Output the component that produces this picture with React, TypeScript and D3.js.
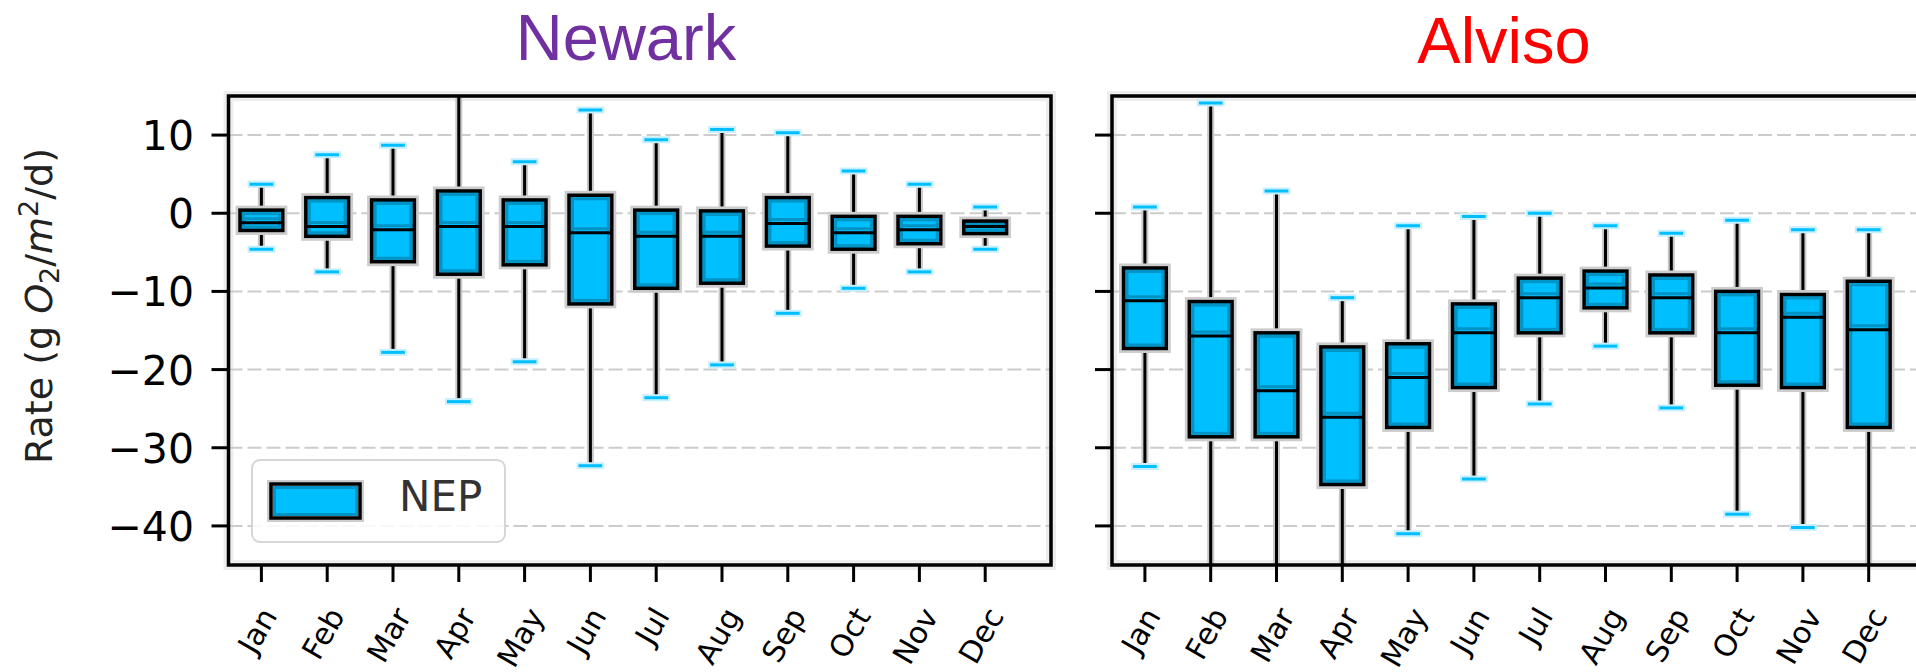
import React, { useEffect, useRef } from 'react';
import * as d3 from 'd3';

const months = ['Jan', 'Feb', 'Mar', 'Apr', 'May', 'Jun', 'Jul', 'Aug', 'Sep', 'Oct', 'Nov', 'Dec'];
const yTicks = [10, 0, -10, -20, -30, -40];

// Newark NEP, monthly box stats (g O2/m2/d)
const newarkLow = [-4.6, -7.5, -17.8, -24.1, -19.0, -32.3, -23.6, -19.4, -12.8, -9.6, -7.5, -4.6];
const newarkQ1 = [-2.2, -2.95, -6.2, -7.8, -6.6, -11.6, -9.6, -8.95, -4.2, -4.6, -3.9, -2.6];
const newarkMedian = [-1.2, -1.7, -2.1, -1.7, -1.7, -2.5, -2.95, -2.95, -1.3, -2.5, -2.1, -1.7];
const newarkQ3 = [0.4, 2.0, 1.7, 2.85, 1.7, 2.3, 0.4, 0.3, 2.0, -0.4, -0.4, -1.0];
const newarkHigh = [3.7, 7.5, 8.7, 18, 6.6, 13.2, 9.4, 10.7, 10.3, 5.4, 3.7, 0.8];

// Alviso NEP
const alvisoLow = [-32.4, -48, -47, -50, -41.0, -34.0, -24.4, -17.0, -24.9, -38.5, -40.2, -48];
const alvisoQ1 = [-17.3, -28.6, -28.6, -34.7, -27.4, -22.3, -15.3, -12.1, -15.3, -22.0, -22.3, -27.4];
const alvisoMedian = [-11.2, -15.7, -22.7, -26.1, -21.0, -15.3, -10.8, -9.55, -10.8, -15.3, -13.3, -14.9];
const alvisoQ3 = [-7.0, -11.3, -15.3, -17.1, -16.7, -11.6, -8.3, -7.4, -7.9, -10.0, -10.4, -8.7];
const alvisoHigh = [0.8, 14.1, 2.85, -10.8, -1.6, -0.4, 0.0, -1.6, -2.56, -0.9, -2.1, -2.1];

const FILL = '#00BFFF';
const BAND = '#0093C4';

const App: React.FC = () => {
  const ref = useRef<SVGSVGElement>(null);

  useEffect(() => {
    const svg = d3.select(ref.current);
    svg.selectAll('*').remove();

    const top = 96;
    const bottom = 565;
    const plotW = 822.5;
    const y = d3.scaleLinear().domain([15, -45]).range([top, bottom]);

    const panels = [
      { key: 'n', left: 228.5, title: 'Newark', color: '#7030A0', tx: 626, ty: 60, low: newarkLow, q1: newarkQ1, med: newarkMedian, q3: newarkQ3, high: newarkHigh, labels: true },
      { key: 'a', left: 1112, title: 'Alviso', color: '#FF0000', tx: 1504, ty: 63, low: alvisoLow, q1: alvisoQ1, med: alvisoMedian, q3: alvisoQ3, high: alvisoHigh, labels: false },
    ];

    panels.forEach((p) => {
      const x = d3.scaleLinear().domain([0.5, 13]).range([p.left, p.left + plotW]);
      const unit = x(2) - x(1);
      const bw = unit * 0.65;
      const cw = unit * 0.36;

      const defs = svg.append('defs');
      defs.append('clipPath').attr('id', `clip-${p.key}`)
        .append('rect').attr('x', p.left).attr('y', top).attr('width', plotW).attr('height', bottom - top);

      // frame halo
      svg.append('rect').attr('x', p.left).attr('y', top).attr('width', plotW).attr('height', bottom - top)
        .attr('fill', 'white').attr('stroke', '#ededed').attr('stroke-width', 10);

      const g = svg.append('g').attr('clip-path', `url(#clip-${p.key})`);

      // grid
      g.selectAll('line.grid').data(yTicks).enter().append('line')
        .attr('x1', p.left).attr('x2', p.left + plotW)
        .attr('y1', (d) => y(d)).attr('y2', (d) => y(d))
        .attr('stroke', '#cccccc').attr('stroke-width', 2).attr('stroke-dasharray', '14 5');

      months.forEach((m, i) => {
        const cx = x(i + 1);
        const yl = y(p.low[i]);
        const y1 = y(p.q1[i]);
        const ym = y(p.med[i]);
        const y3 = y(p.q3[i]);
        const yh = y(p.high[i]);

        // whiskers
        [[y3, yh], [y1, yl]].forEach(([a, b]) => {
          g.append('line').attr('x1', cx).attr('x2', cx).attr('y1', a).attr('y2', b)
            .attr('stroke', '#c8c8c8').attr('stroke-width', 7);
          g.append('line').attr('x1', cx).attr('x2', cx).attr('y1', a).attr('y2', b)
            .attr('stroke', 'black').attr('stroke-width', 3);
        });

        // box
        g.append('rect').attr('x', cx - bw / 2).attr('y', y3).attr('width', bw).attr('height', y1 - y3)
          .attr('fill', 'none').attr('stroke', '#cdcdcd').attr('stroke-width', 9);
        g.append('rect').attr('x', cx - bw / 2).attr('y', y3).attr('width', bw).attr('height', y1 - y3)
          .attr('fill', FILL);
        g.append('rect').attr('x', cx - bw / 2 + 3.5).attr('y', y3 + 3.5).attr('width', bw - 7).attr('height', Math.max(0, y1 - y3 - 7))
          .attr('fill', 'none').attr('stroke', BAND).attr('stroke-width', 3);
        g.append('line').attr('x1', cx - bw / 2).attr('x2', cx + bw / 2).attr('y1', ym - 4).attr('y2', ym - 4)
          .attr('stroke', BAND).attr('stroke-width', 3);
        g.append('rect').attr('x', cx - bw / 2).attr('y', y3).attr('width', bw).attr('height', y1 - y3)
          .attr('fill', 'none').attr('stroke', 'black').attr('stroke-width', 3.5);
        g.append('line').attr('x1', cx - bw / 2).attr('x2', cx + bw / 2).attr('y1', ym).attr('y2', ym)
          .attr('stroke', 'black').attr('stroke-width', 3);

        // caps
        [yh, yl].forEach((cy) => {
          g.append('line').attr('x1', cx - cw / 2 - 2).attr('x2', cx + cw / 2 + 2).attr('y1', cy).attr('y2', cy)
            .attr('stroke', '#c6efff').attr('stroke-width', 7);
          g.append('line').attr('x1', cx - cw / 2).attr('x2', cx + cw / 2).attr('y1', cy).attr('y2', cy)
            .attr('stroke', FILL).attr('stroke-width', 3);
        });

        // x tick + label
        svg.append('line').attr('x1', cx).attr('x2', cx).attr('y1', bottom).attr('y2', bottom + 17)
          .attr('stroke', 'black').attr('stroke-width', 3);
        const t = svg.append('text').text(m)
          .attr('font-family', 'DejaVu Sans').attr('font-size', 30).attr('fill', 'black')
          .attr('text-anchor', 'middle').attr('dominant-baseline', 'central');
        const w = (t.node() as SVGTextElement).getComputedTextLength();
        const h = 30;
        const lx = cx - 4;
        const ly = 603 + (0.866 * w + 0.5 * h) / 2;
        t.attr('x', lx).attr('y', ly).attr('transform', `rotate(-60,${lx},${ly})`);
      });

      // y ticks
      yTicks.forEach((v) => {
        svg.append('line').attr('x1', p.left - 17).attr('x2', p.left).attr('y1', y(v)).attr('y2', y(v))
          .attr('stroke', 'black').attr('stroke-width', 3);
        if (p.labels) {
          svg.append('text').attr('x', 194).attr('y', y(v) + 15)
            .attr('text-anchor', 'end').attr('font-family', 'DejaVu Sans').attr('font-size', 41)
            .attr('fill', 'black').text(v < 0 ? `\u2212${Math.abs(v)}` : `${v}`);
        }
      });

      // frame
      svg.append('rect').attr('x', p.left).attr('y', top).attr('width', plotW).attr('height', bottom - top)
        .attr('fill', 'none').attr('stroke', 'black').attr('stroke-width', 3.5);

      // title
      svg.append('text').attr('x', p.tx).attr('y', p.ty).attr('text-anchor', 'middle')
        .attr('font-family', 'Liberation Sans, Arial, sans-serif').attr('font-size', 65)
        .attr('fill', p.color).text(p.title);
    });

    // y label
    const yl = svg.append('text').attr('transform', 'translate(52,306) rotate(-90)')
      .attr('text-anchor', 'middle').attr('font-family', 'DejaVu Sans').attr('font-size', 38).attr('fill', '#222');
    yl.append('tspan').text('Rate (g ');
    yl.append('tspan').attr('font-style', 'italic').text('O');
    yl.append('tspan').attr('font-size', 27).attr('dy', 7).text('2');
    yl.append('tspan').attr('dy', -7).text('/');
    yl.append('tspan').attr('font-style', 'italic').text('m');
    yl.append('tspan').attr('font-size', 27).attr('dy', -14).text('2');
    yl.append('tspan').attr('dy', 14).text('/d)');

    // legend
    const lg = svg.append('g');
    lg.append('rect').attr('x', 252).attr('y', 460).attr('width', 253).attr('height', 82).attr('rx', 8)
      .attr('fill', 'white').attr('fill-opacity', 0.85).attr('stroke', '#d6d6d6').attr('stroke-width', 2);
    lg.append('rect').attr('x', 271).attr('y', 484).attr('width', 89).attr('height', 34)
      .attr('fill', FILL).attr('stroke', '#cdcdcd').attr('stroke-width', 8);
    lg.append('rect').attr('x', 274.5).attr('y', 487.5).attr('width', 82).attr('height', 27)
      .attr('fill', 'none').attr('stroke', BAND).attr('stroke-width', 3);
    lg.append('rect').attr('x', 271).attr('y', 484).attr('width', 89).attr('height', 34)
      .attr('fill', 'none').attr('stroke', 'black').attr('stroke-width', 3.5);
    lg.append('text').attr('x', 399).attr('y', 511).attr('font-family', 'DejaVu Sans').attr('font-size', 42)
      .attr('fill', '#333').text('NEP');
  }, []);

  return (
    <div style={{ position: 'absolute', left: 0, top: 0 }}>
      <svg ref={ref} width={1916} height={672} style={{ display: 'block', background: 'white' }}></svg>
    </div>
  );
};

export default App;
